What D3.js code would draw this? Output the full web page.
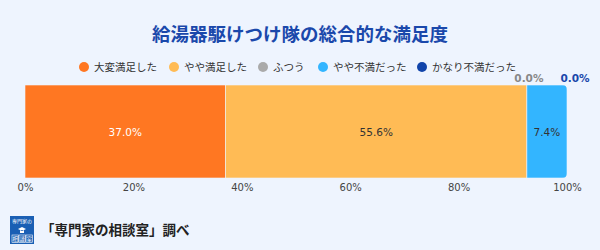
<!DOCTYPE html>
<html>
<head>
<meta charset="utf-8">
<script src="https://cdn.jsdelivr.net/npm/d3@7"></script>
<style>
  body { margin: 0; background: #eef4fe; }
  svg { display: block; font-family: "Noto Sans CJK JP", "Noto Sans", sans-serif; }
</style>
</head>
<body>
<div id="chart"></div>
<script>
// ========= Data ========= //
const categories = ['大変満足した', 'やや満足した', 'ふつう', 'やや不満だった', 'かなり不満だった'];
const values = [37.0, 55.6, 0.0, 7.4, 0.0];
const colors = ['#ff7722', '#ffbb55', '#aaaaaa', '#33b5ff', '#1144aa'];
const ticks = [0, 20, 40, 60, 80, 100];

const width = 600;
const height = 250;
const margin = { left: 25, right: 33, top: 85, bottom: 72 };
const numFont = '"DejaVu Sans", Verdana, sans-serif';

const svg = d3.select('#chart').append('svg')
  .attr('width', width)
  .attr('height', height);

svg.append('rect').attr('width', width).attr('height', height).attr('fill', '#eef4fe');

// ========= Title ========= //
svg.append('text')
  .attr('x', width / 2)
  .attr('y', 41)
  .attr('text-anchor', 'middle')
  .attr('font-size', 18.5)
  .attr('font-weight', 'bold')
  .attr('fill', '#1a48ab')
  .text('給湯器駆けつけ隊の総合的な満足度');

// ========= Legend ========= //
const legendX = [84, 174, 263, 323, 422];
const legend = svg.append('g').attr('class', 'legend');
categories.forEach((c, i) => {
  legend.append('circle')
    .attr('cx', legendX[i]).attr('cy', 67).attr('r', 5)
    .attr('fill', colors[i]);
  legend.append('text')
    .attr('x', legendX[i] + 10).attr('y', 71)
    .attr('font-size', 10.5)
    .attr('fill', '#333')
    .text(c);
});

// ========= Scales ========= //
const x = d3.scaleLinear()
  .domain([0, 100])
  .range([margin.left, width - margin.right]);

const y0 = margin.top;
const y1 = height - margin.bottom;

// stacked
let acc = 0;
const segs = values.map((v, i) => {
  const s = { i, v, start: acc, end: acc + v };
  acc += v;
  return s;
});

const clip = svg.append('defs').append('clipPath').attr('id', 'bar-clip');
const r = 5;
const bx0 = x(0), bx1 = x(100);
clip.append('path')
  .attr('d', `M${bx0},${y0} H${bx1 - r} Q${bx1},${y0} ${bx1},${y0 + r} V${y1 - r} Q${bx1},${y1} ${bx1 - r},${y1} H${bx0} Z`);

svg.append('g')
  .attr('clip-path', 'url(#bar-clip)')
  .selectAll('rect')
  .data(segs.filter((d) => d.v > 0))
  .join('rect')
  .attr('x', (d) => x(d.start))
  .attr('y', y0)
  .attr('width', (d) => x(d.end) - x(d.start))
  .attr('height', y1 - y0)
  .attr('fill', (d) => colors[d.i])
  .attr('stroke', '#eef4fe')
  .attr('stroke-width', 0.6);

// inside labels
svg.append('g')
  .selectAll('text')
  .data(segs.filter((d) => d.v > 0))
  .join('text')
  .attr('x', (d) => (x(d.start) + x(d.end)) / 2)
  .attr('y', (y0 + y1) / 2 + 4)
  .attr('text-anchor', 'middle')
  .attr('font-size', 10.5)
  .attr('font-family', numFont)
  .attr('fill', (d) => d.i === 0 ? '#fff' : '#333')
  .text((d) => d.v.toFixed(1) + '%');

// zero-value labels above the bar
const zeroSegs = segs.filter((d) => d.v === 0);
svg.append('g')
  .selectAll('text')
  .data(zeroSegs)
  .join('text')
  .attr('x', (d) => x(d.start) + (d.i === categories.length - 1 ? 8 : 2))
  .attr('y', 82)
  .attr('text-anchor', 'middle')
  .attr('font-size', 10.5)
  .attr('font-family', numFont)
  .attr('font-weight', 'bold')
  .attr('fill', (d) => d.i === categories.length - 1 ? '#1a48ab' : '#888')
  .text((d) => d.v.toFixed(1) + '%');

// ========= Axis ========= //
const axis = svg.append('g')
  .attr('transform', `translate(0, ${y1 + 3})`)
  .call(d3.axisBottom(x).tickValues(ticks).tickSize(0).tickFormat((d) => d + '%'));
axis.select('.domain').remove();
axis.selectAll('text')
  .attr('font-size', 10)
  .attr('fill', '#444')
  .attr('font-family', numFont);

// ========= Footer / logo ========= //
const logo = svg.append('g').attr('transform', 'translate(10, 216)');
logo.append('rect').attr('width', 24).attr('height', 28).attr('fill', '#1a5fb4');
logo.append('text').attr('x', 12).attr('y', 7).attr('text-anchor', 'middle')
  .attr('font-size', 5).attr('fill', '#fff').text('専門家の');
logo.append('path').attr('d', 'M8,13 L12,11 L16,13 L12,15 Z M10,14 V17 H14 V14').attr('fill', '#fff');
['相', '談', '室'].forEach((c, i) => {
  logo.append('rect').attr('x', 2 + i * 7).attr('y', 19).attr('width', 6.5).attr('height', 7.5)
    .attr('fill', 'none').attr('stroke', '#fff').attr('stroke-width', 0.6);
  logo.append('text').attr('x', 5.25 + i * 7).attr('y', 25).attr('text-anchor', 'middle')
    .attr('font-size', 5.5).attr('fill', '#fff').text(c);
});

svg.append('text')
  .attr('x', 41)
  .attr('y', 235)
  .attr('font-size', 13.5)
  .attr('font-weight', 'bold')
  .attr('fill', '#222')
  .text('「専門家の相談室」調べ');
</script>
</body>
</html>
